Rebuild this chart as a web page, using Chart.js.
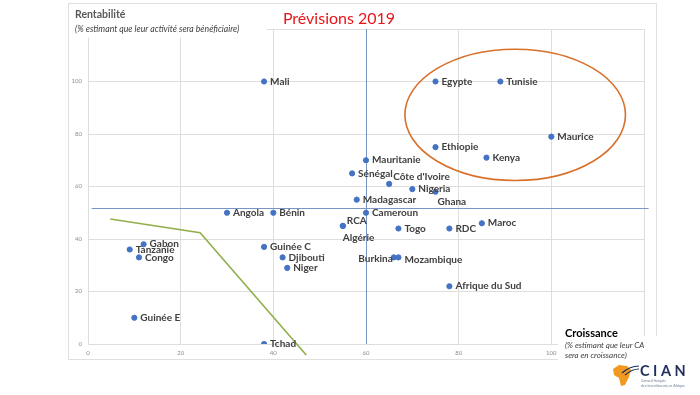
<!DOCTYPE html>
<html>
<head>
<meta charset="utf-8">
<script src="https://cdn.jsdelivr.net/npm/chart.js@4"></script>
<style>
  html, body { margin: 0; padding: 0; background: #fff; }
  #wrap { width: 700px; height: 395px; position: relative; }
</style>
</head>
<body>
<div id="wrap"><canvas id="scatterChart"></canvas></div>
<script>
// données
const countries = ['Mali', 'Egypte', 'Tunisie', 'Maurice', 'Ethiopie', 'Kenya', 'Mauritanie', 'Sénégal',
  "Côte d'Ivoire", 'Nigeria', 'Ghana', 'Madagascar', 'Cameroun', 'Angola', 'Bénin', 'RCA', 'Algérie',
  'Togo', 'RDC', 'Maroc', 'Burkina', 'Mozambique', 'Afrique du Sud', 'Gabon', 'Tanzanie', 'Congo',
  'Guinée C', 'Djibouti', 'Niger', 'Guinée E', 'Tchad'];
const croissance = [38, 75, 89, 100, 75, 86, 60, 57, 65, 70, 75, 58, 60, 30, 40, 55, 55, 67, 78, 85, 66, 67, 78, 12, 9, 11, 38, 42, 43, 10, 38];
const rentabilite = [100, 100, 100, 79, 75, 71, 70, 65, 61, 59, 58, 55, 50, 50, 50, 45, 45, 44, 44, 46, 33, 33, 22, 38, 36, 33, 37, 33, 29, 10, 0];
const xTicks = [0, 20, 40, 60, 80, 100];
const yTicks = [0, 20, 40, 60, 80, 100];

// lignes de repère
const refX = 60;                // croissance moyenne
const refY = 52;                // rentabilité moyenne
const refHRange = [0.8, 121];   // étendue de la ligne horizontale
const greenX = [4.8, 24.2, 47.1];
const greenY = [47.6, 42.4, -4.2];
const ellipseCenter = [92.2, 87.3];
const ellipseRadius = [23.8, 25];

// décalage des étiquettes (par défaut : à droite du point)
const labelOffsets = {
  'Ghana': { dx: 2, dy: 10 },
  'RCA': { dx: 4, dy: -5 },
  'Algérie': { dx: 0, dy: 12 },
  "Côte d'Ivoire": { dx: 4, dy: -7 },
  'Burkina': { dx: -1, dy: 1.5, align: 'right' },
  'Mozambique': { dx: 6, dy: 2.5 }
};

const points = countries.map((c, i) => ({ x: croissance[i], y: rentabilite[i] }));

const decorPlugin = {
  id: 'decor',
  beforeDraw(chart) {
    const ctx = chart.ctx;
    ctx.save();
    ctx.fillStyle = '#fff';
    ctx.fillRect(0, 0, chart.width, chart.height);
    ctx.strokeStyle = '#e0e0e0';
    ctx.lineWidth = 1;
    ctx.strokeRect(68.5, 3.5, 588, 356);
    ctx.restore();
  },
  beforeDatasetsDraw(chart) {
    const ctx = chart.ctx;
    const xs = chart.scales.x, ys = chart.scales.y;
    ctx.save();
    // encadré du sous-titre qui cache le haut de la grille
    ctx.fillStyle = '#fff';
    ctx.fillRect(69, 5, 198, 32.5);

    // lignes de repère bleues
    const px = Math.round(xs.getPixelForValue(refX)) + 0.5;
    const py = Math.round(ys.getPixelForValue(refY)) + 0.5;
    ctx.strokeStyle = '#7895c4';
    ctx.lineWidth = 1;
    ctx.beginPath();
    ctx.moveTo(px, ys.getPixelForValue(120));
    ctx.lineTo(px, ys.getPixelForValue(0));
    ctx.moveTo(xs.getPixelForValue(refHRange[0]), py);
    ctx.lineTo(xs.getPixelForValue(refHRange[1]), py);
    ctx.stroke();
    ctx.restore();
  },
  afterDatasetsDraw(chart) {
    const ctx = chart.ctx;
    const xs = chart.scales.x, ys = chart.scales.y;
    ctx.save();
    // ellipse orange
    const cx = xs.getPixelForValue(ellipseCenter[0]);
    const cy = ys.getPixelForValue(ellipseCenter[1]);
    const rx = xs.getPixelForValue(ellipseCenter[0] + ellipseRadius[0]) - cx;
    const ry = cy - ys.getPixelForValue(ellipseCenter[1] + ellipseRadius[1]);
    ctx.beginPath();
    ctx.ellipse(cx, cy, rx, ry, 0, 0, Math.PI * 2);
    ctx.strokeStyle = '#d8702a';
    ctx.lineWidth = 1.6;
    ctx.stroke();

    // étiquettes des pays
    const meta = chart.getDatasetMeta(0);
    ctx.font = 'bold 10px Lato';
    ctx.fillStyle = '#404040';
    ctx.textBaseline = 'middle';
    meta.data.forEach((pt, i) => {
      const name = countries[i];
      const off = labelOffsets[name] || { dx: 6, dy: 0 };
      ctx.textAlign = off.align || 'left';
      ctx.fillText(name, pt.x + off.dx, pt.y + off.dy);
    });
    ctx.restore();
  },
  afterDraw(chart) {
    const ctx = chart.ctx;
    ctx.save();
    // titre
    ctx.fillStyle = '#e8161b';
    ctx.font = '16px Lato';
    ctx.textAlign = 'center';
    ctx.textBaseline = 'middle';
    ctx.fillText('Prévisions 2019', 339, 18.5);

    ctx.textAlign = 'left';
    ctx.fillStyle = '#595959';
    ctx.font = 'bold 10.5px Lato';
    ctx.fillText('Rentabilité', 75, 15);
    ctx.fillStyle = '#404040';
    ctx.font = 'italic 8.7px Lato';
    ctx.fillText('(% estimant que leur activité sera bénéficiaire)', 75, 29);

    // encadré de l'axe horizontal + logo
    ctx.fillStyle = '#fff';
    ctx.fillRect(558, 336, 142, 59);
    ctx.fillStyle = '#000';
    ctx.font = 'bold 11px Lato';
    ctx.fillText('Croissance', 565, 333);
    ctx.fillStyle = '#404040';
    ctx.font = 'italic 8px Lato';
    ctx.fillText('(% estimant que leur CA', 565, 345);
    ctx.fillText('sera en croissance)', 565, 355);

    // logo CIAN
    ctx.fillStyle = '#f29a1f';
    ctx.beginPath();
    ctx.moveTo(613, 369); ctx.lineTo(619, 365); ctx.lineTo(627, 366); ctx.lineTo(631, 370);
    ctx.lineTo(629, 377); ctx.lineTo(625, 385); ctx.lineTo(621, 386); ctx.lineTo(619, 378);
    ctx.lineTo(614, 375); ctx.closePath();
    ctx.fill();
    ctx.strokeStyle = '#1f2f5c';
    ctx.lineWidth = 1.2;
    ctx.beginPath();
    ctx.moveTo(622, 373); ctx.quadraticCurveTo(630, 366, 639, 366);
    ctx.moveTo(625, 375); ctx.quadraticCurveTo(632, 369, 639, 369);
    ctx.stroke();
    ctx.fillStyle = '#1f2f5c';
    ctx.font = 'bold 14.5px Lato';
    ctx.fillText('C I A N', 640, 371);
    ctx.fillStyle = '#6b7a99';
    ctx.font = '3.6px Lato';
    ctx.fillText('Conseil français', 641, 380.5);
    ctx.fillText('des investisseurs en Afrique', 641, 385.5);
    ctx.restore();
  }
};

const scatterConfig = {
  type: 'scatter',
  data: {
    datasets: [{
      label: 'Pays',
      data: points,
      backgroundColor: '#4472c4',
      borderColor: '#4472c4',
      pointRadius: 2.6,
      pointHoverRadius: 2.6
    }, {
      type: 'line',
      label: 'seuil',
      data: greenX.map((x, i) => ({ x: x, y: greenY[i] })),
      borderColor: '#8fb04a',
      borderWidth: 1.6,
      pointRadius: 0,
      tension: 0,
      clip: false
    }]
  },
  options: {
    responsive: true,
    maintainAspectRatio: false,
    animation: false,
    events: [],
    plugins: {
      legend: { display: false },
      tooltip: { enabled: false }
    },
    layout: {
      padding: { left: 68, top: 29, right: 56, bottom: 36 }
    },
    scales: {
      x: {
        type: 'linear',
        min: 0,
        max: 120,
        afterFit: (scale) => { scale.height = 15; },
        afterBuildTicks: (scale) => { scale.ticks = xTicks.concat([120]).map(v => ({ value: v })); },
        ticks: {
          padding: 5,
          color: '#8c8c8c',
          font: { size: 6, family: 'Lato' },
          callback: (v) => xTicks.includes(v) ? v : ''
        },
        grid: { color: '#dedede', drawTicks: false },
        border: { color: '#dedede' }
      },
      y: {
        type: 'linear',
        min: 0,
        max: 120,
        afterFit: (scale) => { scale.width = 20; },
        afterBuildTicks: (scale) => { scale.ticks = yTicks.concat([120]).map(v => ({ value: v })); },
        ticks: {
          padding: 6,
          color: '#8c8c8c',
          font: { size: 6, family: 'Lato' },
          callback: (v) => yTicks.includes(v) ? v : ''
        },
        grid: { color: '#dedede', drawTicks: false },
        border: { color: '#dedede' }
      }
    }
  },
  plugins: [decorPlugin]
};

let scatterChart = new Chart(document.getElementById('scatterChart'), scatterConfig);
</script>
</body>
</html>
